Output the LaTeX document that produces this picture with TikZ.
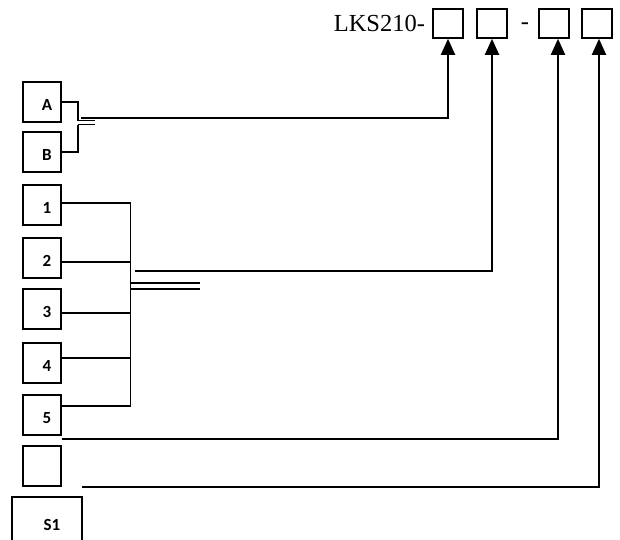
\documentclass[tikz,border=0pt]{standalone}
\usepackage{fontspec}
\setmainfont{Liberation Serif}
\newfontfamily\lblfont{Carlito}
\usetikzlibrary{arrows.meta, calc}

\begin{document}
\begin{tikzpicture}[x=1pt,y=-1pt,
  box/.style={draw,line width=1.6pt,minimum width=38pt,minimum height=40pt,inner sep=0pt,
    label={[font=\lblfont\bfseries\fontsize{17}{17}\selectfont,xshift=5pt,yshift=-3pt]center:#1}},
  box/.default={},
  codebox/.style={draw,line width=1.6pt,minimum width=30pt,minimum height=29pt,inner sep=0pt},
  wire/.style={line width=2pt},
  tap/.style={line width=1.5pt},
  arr/.style={wire,-{Triangle[length=16pt,width=14pt]}}]
  \useasboundingbox (0,0) rectangle (620,539);
  % part number
  \node[codebox] (c1) at (448,23.5) {};
  \node[codebox] (c2) at (492,23.5) {};
  \node[codebox] (c3) at (554,23.5) {};
  \node[codebox] (c4) at (597,23.5) {};
  \node[font=\fontsize{24.5}{26}\selectfont,anchor=east,inner sep=0pt,xshift=-7pt] (code) at (c1.west) {LKS210-};
  \node[font=\fontsize{24.5}{26}\selectfont] (dash) at (525,26) {-};
  % option boxes
  \node[box=A] (boxA) at (42,102) {};
  \node[box=B] (boxB) at (42,152) {};
  \foreach \i/\y in {1/205,2/258,3/309,4/363,5/415}{
    \node[box=\i] (box\i) at (42,\y) {};
  }
  \node[box] (boxE) at (42,466) {};
  \node[box=S1,minimum width=70pt,minimum height=50pt] (boxS1) at (47,522) {};
  % A / B
  \coordinate (abtop) at (78,120.5);
  \coordinate (abbot) at (78,124.5);
  \draw[tap] (boxA.east) -| (abtop);
  \draw[tap] (boxB.east) -| (abbot);
  \draw[tap] (abtop) -- ++(17,0) (abbot) -- ++(17,0);
  \coordinate (about) at (81,118);
  \draw[arr] (about) -| (c1.south);
  % 1..5
  \coordinate (bus) at (130.5,0);
  \foreach \i/\dy in {1/2,2/-4,3/-4,4/5,5/9}{
    \coordinate (t\i) at ([yshift=\dy pt]box\i.east);
    \draw[tap] (t\i) -- (t\i -| bus);
  }
  \draw[tap] (t1 -| bus) -- (t5 -| bus);
  \coordinate (nbtop) at (130.5,283);
  \coordinate (nbbot) at (130.5,289);
  \draw[tap] (nbtop) -- ++(69.5,0) (nbbot) -- ++(69.5,0);
  \coordinate (nbout) at (135,271);
  \draw[arr] (nbout) -| (c2.south);
  % last two
  \coordinate (thout) at ([yshift=-3pt]box5.south east);
  \draw[arr] (thout) -| ([xshift=4pt]c3.south);
  \coordinate (foout) at ([shift={(-1,-9)}]boxS1.north east);
  \draw[arr] (foout) -| ([xshift=2pt]c4.south);
\end{tikzpicture}
\end{document}
